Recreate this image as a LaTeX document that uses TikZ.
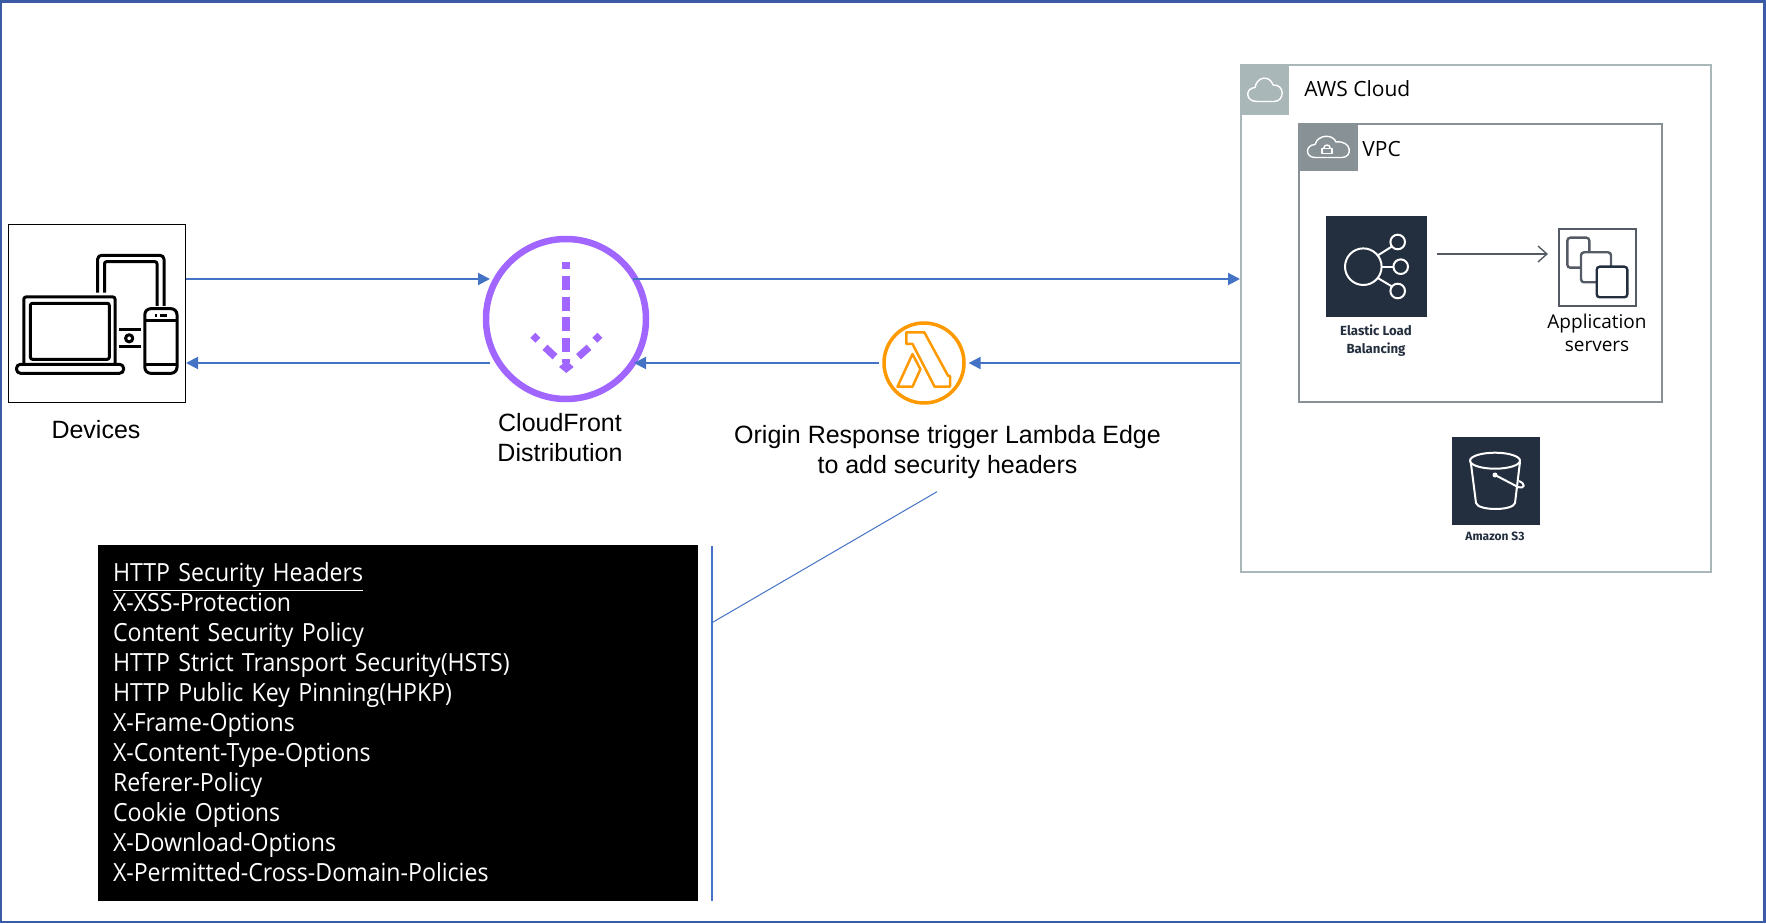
\documentclass[tikz,border=0pt]{standalone}
\usepackage{fontspec}
\setmainfont{Liberation Sans}
\newfontfamily\awsfont{Open Sans}
\newfontfamily\labelfont{Fira Sans}
\newfontfamily\headerfont[FakeStretch=0.925,WordSpace=0.5]{Open Sans}
\usetikzlibrary{arrows.meta,calc}
\definecolor{flowblue}{HTML}{4472C4}
\definecolor{framblue}{HTML}{3B5BA5}
\definecolor{cdnpurple}{HTML}{A166FF}
\definecolor{lambdaorange}{HTML}{FF9900}
\definecolor{awsnavy}{HTML}{232F3E}
\definecolor{cloudgrey}{HTML}{AAB7B8}
\definecolor{vpcgrey}{HTML}{879196}
\definecolor{linegrey}{HTML}{545B64}
\tikzset{
  flow/.style={flowblue, line width=1pt, -{Triangle[length=6pt,width=6pt]}},
  thinblue/.style={flowblue, line width=0.5pt},
  devline/.style={black, line width=1.5pt, line join=round},
  whiteline/.style={white, line width=1pt, line join=round},
  cloudline/.style={white, line width=0.7pt, line join=round},
  maintext/.style={font=\fontsize{12.5}{15}\selectfont, align=center, inner sep=0pt},
  awstext/.style={font=\awsfont\fontsize{10.5}{11.5}\selectfont, align=center, inner sep=0pt},
  smalltext/.style={font=\labelfont\bfseries\fontsize{6.6}{9}\selectfont, text=awsnavy, align=center, inner sep=0pt},
  tile/.style={fill=awsnavy, minimum width=#1*0.5pt, minimum height=#1*0.5pt, inner sep=0pt}
}
\begin{document}
\begin{tikzpicture}[x=0.5pt, y=-0.5pt]
      \useasboundingbox (0,0) rectangle (1766,924);

      \draw[framblue, line width=1.1pt] (1,1.5) rectangle (1764.5,922);

      \node[draw=cloudgrey, line width=1pt, minimum width=235pt, minimum height=253.5pt, inner sep=0pt] (aws) at (1476,318.5) {};
      \node[fill=cloudgrey, minimum width=24pt, minimum height=25pt, inner sep=0pt] (awstag) at (1265,90) {};
      \node[draw=vpcgrey, line width=1pt, minimum width=181.5pt, minimum height=139pt, inner sep=0pt] (vpc) at (1480.5,263) {};
      \node[fill=vpcgrey, minimum width=29.5pt, minimum height=23.5pt, inner sep=0pt] (vpctag) at (1328.5,147.5) {};
      \node[draw=black, line width=0.5pt, minimum width=88.5pt, minimum height=89pt, inner sep=0pt] (devices) at (97,313.7) {};
      \node[circle, draw=cdnpurple, line width=3.25pt, minimum size=80pt, inner sep=0pt] (cdn) at (566,319) {};
      \node[circle, draw=lambdaorange, line width=1.75pt, minimum size=40pt, inner sep=0pt] (lambda) at (924,363) {};
      \node[tile=101] (elb) at (1376.5,266.5) {};
      \node[draw=linegrey, line width=0.6pt, minimum size=38.5pt, inner sep=0pt] (appservers) at (1597.5,267.5) {};
      \node[tile=88] (s3) at (1495.5,481) {};
      \node[fill=black, minimum width=300pt, minimum height=177.5pt, inner sep=0pt, inner xsep=7.5pt, text width=285pt, align=left, text=white,
        font=\headerfont\fontsize{12.5}{15}\selectfont] (headers) at (398,723) {\underline{HTTP Security Headers}\\
        X-XSS-Protection\\
        Content Security Policy\\
        HTTP Strict Transport Security(HSTS)\\
        HTTP Public Key Pinning(HPKP)\\
        X-Frame-Options\\
        X-Content-Type-Options\\
        Referer-Policy\\
        Cookie Options\\
        X-Download-Options\\
        X-Permitted-Cross-Domain-Policies\par\vspace*{1pt}};

      \node[maintext] (deviceslabel) at (96,430) {Devices};
      \node[maintext] (cdnlabel) at (560,437.5) {CloudFront\\Distribution};
      \node[maintext] (lambdalabel) at (947.5,452) {Origin Response trigger Lambda Edge\\to add security headers};
      \node[awstext, anchor=west] (awslabel) at (1304,88.5) {AWS Cloud};
      \node[awstext, anchor=west] (vpclabel) at (1362,149.5) {VPC};
      \node[awstext, font=\awsfont\fontsize{9.5}{11.5}\selectfont] (appservlabel) at (1597,332.5) {Application\\servers};
      \node[smalltext] (elblabel) at (1376,341) {Elastic Load\\Balancing};
      \node[smalltext, font=\labelfont\bfseries\fontsize{6}{9}\selectfont] (s3label) at (1495,536) {Amazon S3};

      \coordinate (cdnin) at (490,279);
      \coordinate (cdnout) at (633,279);
      \coordinate (lamin) at (968.6,363);
      \coordinate (lamout) at (879,363);
      \coordinate (cdnback) at (634,363);
      \coordinate (cdnleft) at (490,363);
      \coordinate (bartop) at (712,546);
      \coordinate (barbottom) at (712,901);
      \coordinate (barjoin) at (712,622.7);
      \coordinate (lamcallout) at (937,491.7);

      \draw[flow] (devices.east |- cdnin) -- (cdnin);
      \draw[flow] (cdnout) -- (cdnout -| aws.west);
      \draw[flow] (aws.west |- lamin) -- (lamin);
      \draw[flow] (lamout) -- (cdnback);
      \draw[flow] (cdnleft) -- (cdnleft -| devices.east);
      \draw[thinblue, line width=0.6pt] (bartop) -- (barbottom);
      \draw[thinblue] (barjoin) -- (lamcallout);
      \draw[linegrey, line width=0.7pt, -{Straight Barb[length=4.5pt,width=8pt]}] (1437,254) -- (1548,254);

      \begin{scope}[yshift=-0.5pt]
      \draw[devline, rounded corners=1pt] (23.9,363) -- (23.9,296) -- (115,296) -- (115,363);
      \draw[devline, rounded corners=1pt] (30.4,302.3) rectangle (109.3,358.3);
      \draw[devline, rounded corners=2pt] (16.5,363.3) -- (123.6,363.3) -- (123.6,372.3) -- (16.5,372.3) -- cycle;
      \draw[devline, rounded corners=2pt] (97.6,291.7) -- (97.6,254.3) -- (164,254.3) -- (164,305);
      \draw[devline, rounded corners=1pt] (104.5,291.7) -- (104.5,260.7) -- (157,260.7) -- (157,305);
      \draw[devline, rounded corners=3pt] (144.8,307.7) rectangle (177,372.3);
      \draw[devline] (144.8,320) -- (177,320);
      \draw[devline] (144.8,363.3) -- (177,363.3);
      \draw[devline] (154.5,314.7) -- (156.5,314.7);
      \draw[devline] (160,314.7) -- (167,314.7);
      \draw[devline] (119.3,329) -- (141,329);
      \draw[devline] (119.3,346) -- (141,346);
      \draw[devline] (129.2,337.3) circle (3.6);
      \end{scope}

      \draw[cdnpurple, line width=3.6pt, dash pattern=on 7pt off 3.35pt, dash phase=3.5pt] (566,262.3) -- (566,363);
      \draw[cdnpurple, line width=3.6pt] (545,347.3) -- (555,356.7);
      \draw[cdnpurple, line width=3.6pt] (589,347.3) -- (578.5,356.7);
      \foreach \dotx/\doty in {535.3/337.7, 597.3/337.7}
      \fill[cdnpurple] (\dotx-5,\doty) -- (\dotx,\doty-5) -- (\dotx+5,\doty) -- (\dotx,\doty+5) -- cycle;
      \fill[cdnpurple] (559,367) -- (566.3,360.5) -- (573.7,367) -- (566.3,373) -- cycle;

      \draw[lambdaorange, line width=1.25pt, line join=round] (906.4,332.3) -- (924.3,332.3) -- (948.2,376) -- (950,376) -- (950,386.7) -- (934.6,386.7) -- (912.5,344) -- (906.4,344) -- cycle;
      \draw[lambdaorange, line width=1.25pt, line join=round] (912.5,354) -- (920.4,369.3) -- (912.5,386.7) -- (897.5,386.7) -- cycle;

      \draw[cloudline] (1257,101.5) .. controls (1245,101.5) and (1245,88) .. (1255,87.5) .. controls (1257,76) and (1270,75) .. (1273,85) .. controls (1285,84) and (1285,101.5) .. (1274,101.5) -- cycle;
      \draw[cloudline] (1315,157.5) .. controls (1305,157.5) and (1305,145) .. (1315,144.5) .. controls (1318,134) and (1333,134) .. (1336,142) .. controls (1352,140) and (1353,157.5) .. (1342,157.5) -- cycle;
      \draw[cloudline] (1322,148.3) rectangle (1332,153.5);
      \draw[cloudline] (1323.7,148.3) arc (180:360:3.3);

      \draw[whiteline] (1363.3,266.7) circle (18.3);
      \foreach \smallx/\smally/\startang in {1397.7/242/-38, 1400.7/266.7/0, 1397.7/291/38}
      {
      \draw[whiteline] (\smallx,\smally) circle (7.3);
      \draw[whiteline] (1363.3,266.7) ++(\startang:18.3) -- ($(\smallx,\smally)+(\startang+180:7.3)$);
      }

      \draw[linegrey, line width=1.2pt, rounded corners=1.5pt] (1589.3,251.7) -- (1589.3,237.7) -- (1567.3,237.7) -- (1567.3,267.7) -- (1581,267.7);
      \draw[linegrey, line width=1.2pt, rounded corners=1.5pt] (1611,266.7) -- (1611,252.3) -- (1581,252.3) -- (1581,282.3) -- (1596.7,282.3);
      \draw[awsnavy, line width=1.2pt, rounded corners=1.5pt] (1596.7,266.7) rectangle (1627.3,297.3);

      \draw[whiteline] (1495,460.7) ellipse (25 and 8);
      \draw[whiteline] (1470.7,461.7) -- (1476,503) .. controls (1478,511) and (1513,511) .. (1515,503) -- (1520,461.7);
      \fill[white] (1495,475) circle (2.5);
      \draw[whiteline] (1495,475) -- (1518,487) .. controls (1525,489) and (1526,484) .. (1519,481);
    \end{tikzpicture}
\end{document}
